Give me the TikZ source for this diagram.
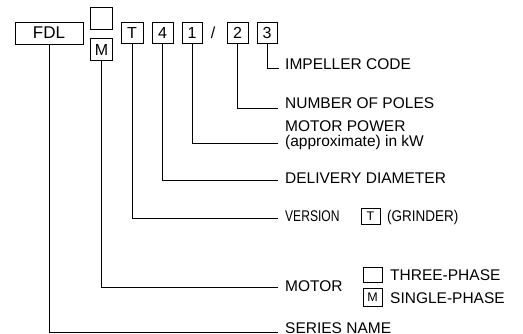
\documentclass[tikz,border=0pt]{standalone}
\usepackage{fontspec}
\setmainfont{Liberation Sans}
\begin{document}
\begin{tikzpicture}[x=1pt,y=-1pt,
  box/.style={draw, line width=0.9pt, inner sep=0pt, minimum width=21pt, minimum height=21pt, font=\fontsize{16}{16}\selectfont},
  sbox/.style={draw, line width=0.9pt, inner sep=0pt, minimum width=19pt, minimum height=16pt, font=\fontsize{12.5}{12.5}\selectfont},
  conn/.style={line width=0.9pt},
  lab/.style={anchor=base west, inner sep=0pt, font=\fontsize{15.5}{14.5}\selectfont}]
\useasboundingbox (0,0) rectangle (523,333);
% code boxes
\node[box, minimum width=68pt, minimum height=22pt, font=\fontsize{17}{17}\selectfont] (fdl) at (49,33) {FDL};
\node[box, minimum width=21.5pt, minimum height=21.5pt] (empty) at (101.5,18.5) {};
\node[box, minimum width=21.5pt, minimum height=21.5pt] (m) at (101.5,49.5) {M};
\node[box, minimum width=22pt] (t) at (132,32.5) {T};
\node[box] (four) at (162.5,32.5) {4};
\node[box, minimum width=20pt] (one) at (192,32.5) {1};
\node[inner sep=0pt, font=\fontsize{16}{16}\selectfont] (slash) at (213,32.5) {/};
\node[box] (two) at (237.5,32.5) {2};
\node[box, minimum width=20pt] (three) at (267,32.5) {3};
% labels
\node[lab] (imp) at (285,69.5) {IMPELLER CODE};
\node[lab] (poles) at (285,108.5) {NUMBER OF POLES};
\node[lab, align=left] (power) at (285,146) {MOTOR POWER\\(approximate) in kW};
\node[lab] (deliv) at (285,183) {DELIVERY DIAMETER};
\node[lab, xscale=0.78] (vers) at (285,221) {VERSION};
\node[sbox] (legt) at (370.5,216) {T};
\node[lab, xscale=0.87] (grind) at (387,221) {(GRINDER)};
\node[lab] (motor) at (285,291) {MOTOR};
\node[sbox, minimum height=15pt] (legempty) at (372.5,274.5) {};
\node[sbox, minimum height=18pt] (legm) at (372.5,297) {M};
\node[lab] (three-ph) at (390,280) {THREE-PHASE};
\node[lab] (single-ph) at (390,303) {SINGLE-PHASE};
\node[lab] (series) at (285,333) {SERIES NAME};
% connector ends
\coordinate (e3) at (279,68);
\coordinate (e2) at (278,108);
\coordinate (e1) at (278,143);
\coordinate (e4) at (278,180);
\coordinate (et) at (278,218);
\coordinate (em) at (278,287);
\coordinate (ef) at (278,332);
% connectors
\draw[conn] (three.south) |- (e3);
\draw[conn] (two.south) |- (e2);
\draw[conn] (one.south) |- (e1);
\draw[conn] (four.south) |- (e4);
\draw[conn] (t.south) |- (et);
\draw[conn] (m.south) |- (em);
\draw[conn] (fdl.south) |- (ef);
\end{tikzpicture}
\end{document}
